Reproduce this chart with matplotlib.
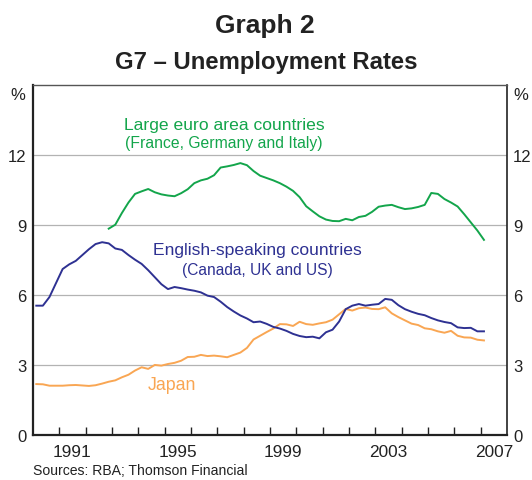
import matplotlib
matplotlib.use("Agg")
import matplotlib.pyplot as plt
import matplotlib.transforms as mtransforms
import numpy as np

plt.rcParams['font.family'] = ['Liberation Sans', 'DejaVu Sans']

# Quarterly data, 1990Q1 - 2007Q1 (plotted at mid-quarter)
start_year = 1990
n_quarters = 69

english_speaking = [5.53, 5.53, 5.9, 6.5, 7.1, 7.3, 7.45, 7.7, 7.95, 8.17,
                    8.25, 8.2, 7.98, 7.92, 7.7, 7.5, 7.32, 7.05, 6.75, 6.45,
                    6.24, 6.33, 6.28, 6.22, 6.17, 6.1, 5.96, 5.9, 5.7, 5.47,
                    5.28, 5.11, 4.98, 4.82, 4.85, 4.75, 4.62, 4.55, 4.45, 4.32,
                    4.23, 4.18, 4.2, 4.13, 4.39, 4.5, 4.85, 5.38, 5.53, 5.6,
                    5.53, 5.57, 5.6, 5.82, 5.78, 5.55, 5.38, 5.27, 5.18, 5.12,
                    5.0, 4.9, 4.83, 4.78, 4.6, 4.57, 4.58, 4.43, 4.43]

# Large euro area countries, 1992Q4 - 2007Q1
euro_start_index = 11
large_euro = [8.83, 9.0, 9.5, 9.95, 10.32, 10.43, 10.53, 10.39, 10.3, 10.25,
              10.22, 10.35, 10.52, 10.78, 10.9, 10.97, 11.12, 11.45, 11.5, 11.56,
              11.64, 11.55, 11.3, 11.1, 11.0, 10.9, 10.78, 10.63, 10.45, 10.18,
              9.79, 9.57, 9.36, 9.22, 9.16, 9.15, 9.25, 9.19, 9.33, 9.38,
              9.55, 9.77, 9.82, 9.85, 9.75, 9.67, 9.7, 9.76, 9.85, 10.36,
              10.32, 10.1, 9.95, 9.78, 9.45, 9.1, 8.75, 8.35]

japan = [2.17, 2.16, 2.1, 2.1, 2.1, 2.12, 2.13, 2.11, 2.09, 2.12,
         2.19, 2.27, 2.33, 2.46, 2.57, 2.75, 2.89, 2.82, 2.99, 2.96,
         3.03, 3.08, 3.17, 3.33, 3.34, 3.42, 3.37, 3.39, 3.36, 3.32,
         3.42, 3.52, 3.72, 4.08, 4.24, 4.4, 4.55, 4.74, 4.73, 4.66,
         4.84, 4.74, 4.71, 4.77, 4.82, 4.93, 5.16, 5.39, 5.32, 5.42,
         5.45, 5.39, 5.38, 5.46, 5.2, 5.04, 4.9, 4.76, 4.7, 4.56,
         4.52, 4.43, 4.37, 4.45, 4.24, 4.17, 4.16, 4.07, 4.04]

year_labels = ['1991', '1995', '1999', '2003', '2007']
y_ticks = [0, 3, 6, 9, 12]

GREEN = '#13a54b'
BLUE = '#2e3192'
ORANGE = '#f9a653'
TXT = '#222222'

t = start_year + (np.arange(n_quarters) + 0.5) / 4.0
t_euro = t[euro_start_index:]

fig = plt.figure(figsize=(5.32, 4.81), dpi=100)
ax = fig.add_axes([33/532, 1-435.7/481, 474/532, 350/481])

ax.plot(t, japan, color=ORANGE, lw=1.4, zorder=3)
ax.plot(t, english_speaking, color=BLUE, lw=1.4, zorder=4)
ax.plot(t_euro, large_euro, color=GREEN, lw=1.4, zorder=4)

ax.set_xlim(1990, 2008)
ax.set_ylim(0, 15)

# grid
for yv in y_ticks[1:]:
    ax.axhline(yv, color='#b3b3b3', lw=0.9, zorder=1)

ax.set_yticks(y_ticks)
ax.set_yticklabels([str(v) for v in y_ticks])
ax.tick_params(axis='y', which='both', length=0, labelsize=12, pad=4.5,
               labelleft=True, labelright=True, colors=TXT)

major_pos = [int(l) + 0.5 for l in year_labels]
ax.set_xticks(major_pos)
ax.set_xticklabels(year_labels)
ax.set_xticks(list(range(1991, 2008)), minor=True)
ax.tick_params(axis='x', which='major', length=0, labelsize=12.4, pad=7, colors=TXT)
ax.tick_params(axis='x', which='minor', length=6, width=1.0, direction='in', color=TXT)

for side in ['left', 'bottom']:
    ax.spines[side].set_linewidth(1.6)
    ax.spines[side].set_color(TXT)
ax.spines['right'].set_linewidth(1.2)
ax.spines['right'].set_color(TXT)
ax.spines['top'].set_linewidth(1.0)
ax.spines['top'].set_color('#555555')

blend = mtransforms.blended_transform_factory(ax.transAxes, ax.transData)
ax.text(-0.017, 14.6, '%', transform=blend, ha='right', va='center', fontsize=12, color=TXT)
ax.text(1.013, 14.6, '%', transform=blend, ha='left', va='center', fontsize=12, color=TXT)

# series labels
ax.text(1997.26, 13.3, 'Large euro area countries', color=GREEN, fontsize=12.6, ha='center', va='center')
ax.text(1997.26, 12.52, '(France, Germany and Italy)', color=GREEN, fontsize=11.3, ha='center', va='center')
ax.text(1998.51, 7.92, 'English-speaking countries', color=BLUE, fontsize=12.6, ha='center', va='center')
ax.text(1998.51, 7.1, '(Canada, UK and US)', color=BLUE, fontsize=11.2, ha='center', va='center')
ax.text(1995.26, 2.17, 'Japan', color=ORANGE, fontsize=12.8, ha='center', va='center')

fig.text(265/532, 1-26/481, 'Graph 2', fontsize=19, fontweight='bold', ha='center', va='center', color=TXT)
fig.text(266/532, 1-63/481, 'G7 \u2013 Unemployment Rates', fontsize=17.2, fontweight='bold', ha='center', va='center', color=TXT)
fig.text(33/532, 1-471/481, 'Sources: RBA; Thomson Financial', fontsize=10.1, ha='left', va='center', color=TXT)

fig.savefig('out.png', dpi=100)
